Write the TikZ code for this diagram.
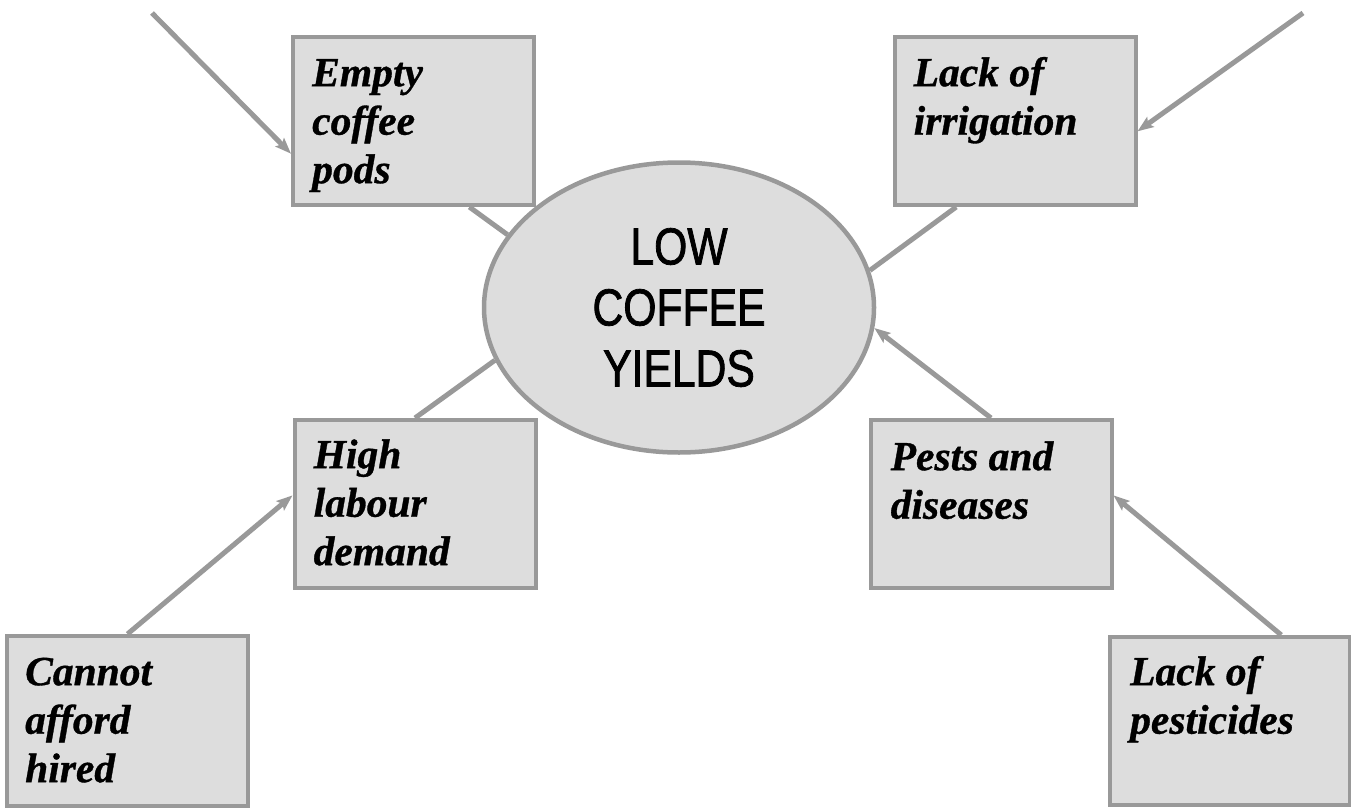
\documentclass[tikz,border=0pt]{standalone}
\usepackage{fontspec}
\setmainfont{Liberation Serif}[BoldItalicFeatures={FakeBold=0.8}]
\newfontfamily\ellfont[FakeStretch=0.82,FakeBold=1.5]{Liberation Sans}
\usetikzlibrary{arrows.meta,calc,shapes.geometric}
\definecolor{edgegray}{RGB}{153,153,153}
\definecolor{fillgray}{RGB}{221,221,221}
\begin{document}
\begin{tikzpicture}[x=1pt,y=-1pt,
  causebox/.style={draw=edgegray, fill=fillgray, line width=4pt,
    minimum width=241pt, minimum height=168pt, inner sep=0pt},
  boxtext/.style={anchor=north west, inner sep=0pt, align=left,
    font=\fontsize{41.5}{48.5}\selectfont\bfseries\itshape},
  link/.style={draw=edgegray, line width=5pt},
  cause/.style={link, -{Stealth[length=16pt,width=12pt,inset=3pt]}},
  centre/.style={ellipse, draw=edgegray, fill=fillgray, line width=4.5pt,
    minimum width=390pt, minimum height=290pt, inner sep=0pt, align=center,
    font=\ellfont\fontsize{52}{61}\selectfont}
]
\useasboundingbox (0,0) rectangle (1351,808);

% boxes
\node[causebox] (empty)      at (413.5,121) {};
\node[causebox] (irrig)      at (1015,121)  {};
\node[causebox] (high)       at (415,504)   {};
\node[causebox] (pests)      at (991,504)   {};
\node[causebox, minimum height=170pt] (cannot) at (127.5,721) {};
\node[causebox, minimum width=240pt] (pesticides) at (1230,721) {};

% central ellipse
\node[centre] (yield) at (679,307.5) {LOW\\COFFEE\\YIELDS};

% box texts
\node[boxtext] (emptyt)  at ($(empty.north west)+(21,19)$)
  {\rule{0pt}{32pt}Empty\\coffee\\pods};
\node[boxtext] (irrigt)  at ($(irrig.north west)+(21,19)$)
  {\rule{0pt}{32pt}Lack of\\irrigation};
\node[boxtext] (hight)   at ($(high.north west)+(21,18)$)
  {\rule{0pt}{32pt}High\\labour\\demand};
\node[boxtext] (pestst)  at ($(pests.north west)+(22,20)$)
  {\rule{0pt}{32pt}Pests and\\diseases};
\node[boxtext] (cannott) at ($(cannot.north west)+(20,19)$)
  {\rule{0pt}{32pt}Cannot\\afford\\hired};
\node[boxtext] (pesticidest) at ($(pesticides.north west)+(22,18)$)
  {\rule{0pt}{32pt}Lack of\\pesticides};

% free ends
\coordinate (s1) at (152,13);
\coordinate (s2) at (1303,13);

% connectors
\draw[cause] (s1) -- ($(empty.north west)!0.69!(empty.south west)$);
\draw[link] ($(empty.south west)!0.728!(empty.south east)$) -- (yield.157.9);
\draw[cause] (s2) -- ($(irrig.north east)!0.56!(irrig.south east)$);
\draw[link] ($(irrig.south west)!0.26!(irrig.south east)$) -- (yield.11.9);
\draw[cause] (cannot.north) -- ($(high.north west)!0.45!(high.south west)$);
\draw[link] (high.north) -- (yield.196.1);
\draw[cause] (pests.north) -- (yield.354.2);
\draw[cause] ($(pesticides.north west)!0.71!(pesticides.north east)$)
  -- ($(pests.north east)!0.45!(pests.south east)$);
\end{tikzpicture}
\end{document}
